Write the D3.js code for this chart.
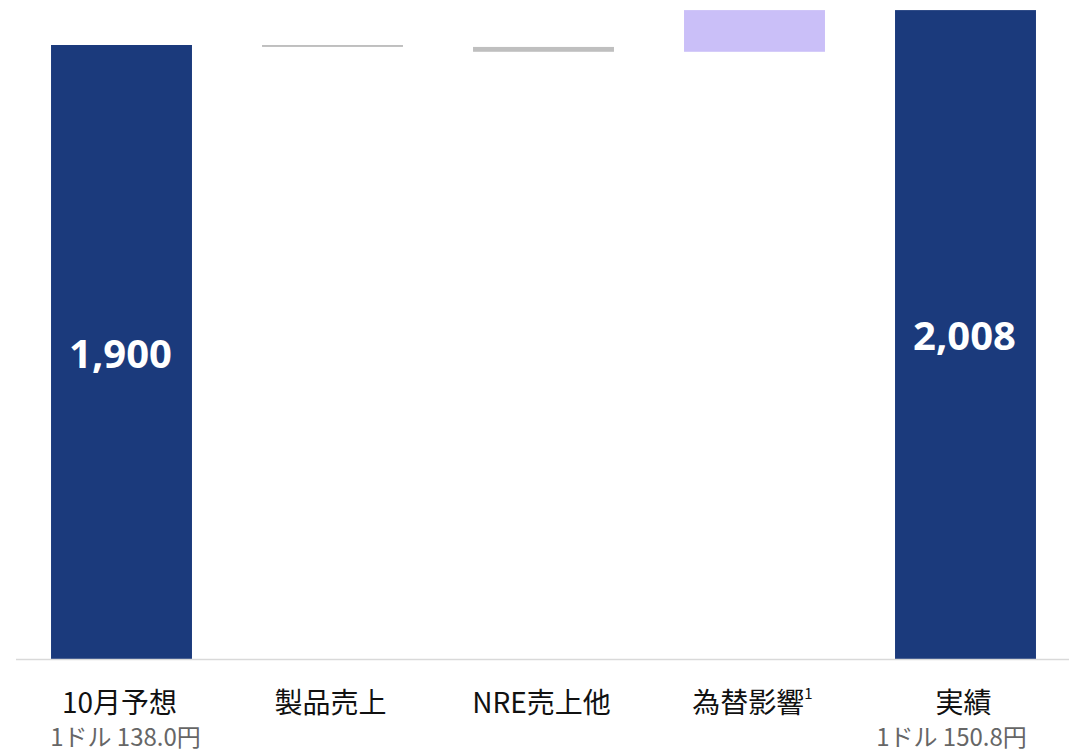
<!DOCTYPE html>
<html lang="ja">
<head>
<meta charset="utf-8">
<script src="https://cdn.jsdelivr.net/npm/d3@7"></script>
<style>
  html, body { margin: 0; padding: 0; background: #ffffff; }
  svg { display: block; }
</style>
</head>
<body>
<svg id="chart" width="1069" height="751"></svg>
<script>
// Revenue bridge: October forecast → actual (億円)
const categories = ["10月予想", "製品売上", "NRE売上他", "為替影響", "実績"];
const kinds      = ["total", "delta", "delta", "delta", "total"];
const values     = [1900, -6, -15, 129, 2008];
const valueLabels = ["1,900", "", "", "", "2,008"];
const footnoteMarks = ["", "", "", "1", ""];
const rateLabels = ["1ドル 138.0円", "", "", "", "1ドル 150.8円"];

const W = 1069, H = 751;
const svg = d3.select("#chart");

const x = d3.scaleBand()
  .domain(categories)
  .range([16, 1071])
  .paddingInner(0.332)
  .paddingOuter(0.166);

const y = d3.scaleLinear()
  .domain([0, 1900])
  .range([659, 45]);

// running start/end for each step of the bridge
let running = 0;
const steps = categories.map((c, i) => {
  let start, end;
  if (kinds[i] === "total") { start = 0; end = values[i]; running = values[i]; }
  else { start = running; end = running + values[i]; running = end; }
  return { cat: c, kind: kinds[i], value: values[i], start, end, i };
});

const colorOf = d => d.kind === "total" ? "#1b3a7c" : (d.value < 0 ? "#bfbfbf" : "#cabff8");

svg.append("g")
  .selectAll("rect")
  .data(steps)
  .join("rect")
  .attr("x", d => x(d.cat))
  .attr("width", x.bandwidth())
  .attr("y", d => y(Math.max(d.start, d.end)))
  .attr("height", d => Math.abs(y(d.start) - y(d.end)))
  .attr("fill", colorOf);

// baseline
svg.append("line")
  .attr("x1", 16).attr("x2", W)
  .attr("y1", y(0) + 0.5).attr("y2", y(0) + 0.5)
  .attr("stroke", "#d9d9d9")
  .attr("stroke-width", 1.5);

// value labels inside the total bars
svg.append("g")
  .selectAll("text")
  .data(steps.filter(d => valueLabels[d.i] !== ""))
  .join("text")
  .attr("x", d => x(d.cat) + x.bandwidth() / 2 - 1)
  .attr("y", d => (y(d.start) + y(d.end)) / 2)
  .attr("text-anchor", "middle")
  .attr("dominant-baseline", "central")
  .attr("fill", "#ffffff")
  .attr("font-family", "'Open Sans', 'Noto Sans', sans-serif")
  .attr("font-weight", 700)
  .attr("font-size", 40)
  .text(d => valueLabels[d.i]);

// category labels
const cat = svg.append("g")
  .selectAll("text")
  .data(steps)
  .join("text")
  .attr("x", d => x(d.cat) + x.bandwidth() / 2 - 2)
  .attr("y", 701)
  .attr("text-anchor", "middle")
  .attr("dominant-baseline", "central")
  .attr("fill", "#111111")
  .attr("font-family", "'Noto Sans CJK JP', sans-serif")
  .attr("font-size", 28);
cat.append("tspan").text(d => d.cat);
cat.filter(d => footnoteMarks[d.i] !== "")
  .append("tspan")
  .attr("font-size", 15)
  .attr("dy", -9)
  .text(d => footnoteMarks[d.i]);

// exchange-rate sub labels
const rateShift = [4, 0, 0, 0, -14];
svg.append("g")
  .selectAll("text")
  .data(steps.filter(d => rateLabels[d.i] !== ""))
  .join("text")
  .attr("x", d => x(d.cat) + x.bandwidth() / 2 + rateShift[d.i])
  .attr("y", 735)
  .attr("text-anchor", "middle")
  .attr("dominant-baseline", "central")
  .attr("fill", "#666666")
  .attr("font-family", "'Noto Sans CJK JP', sans-serif")
  .attr("font-weight", 400)
  .attr("font-size", 24)
  .text(d => rateLabels[d.i]);
</script>
</body>
</html>
